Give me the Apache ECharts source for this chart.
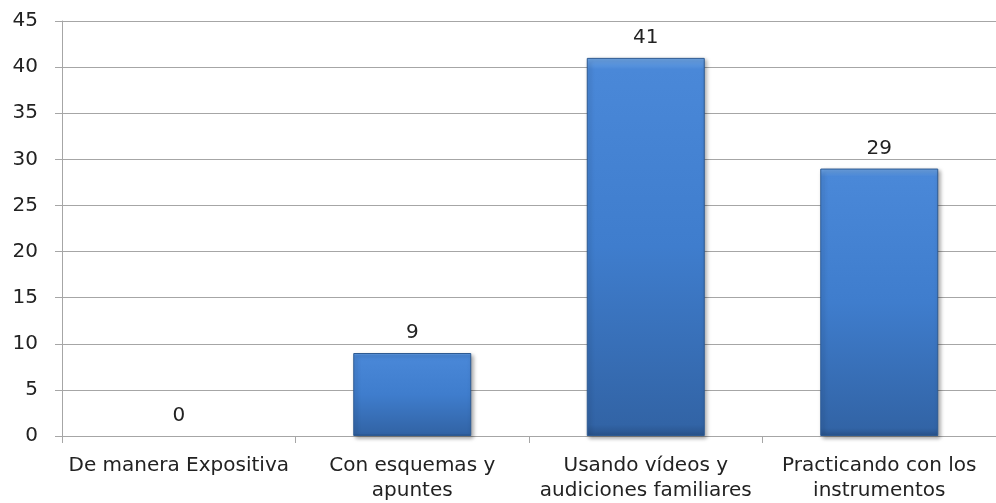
<!DOCTYPE html>
<html>
<head>
<meta charset="utf-8">
<script src="https://cdn.jsdelivr.net/npm/echarts@6/dist/echarts.min.js"></script>
<style>
    html, body { margin: 0; padding: 0; background: #fff; }
    #chart { width: 996px; height: 503px; }
</style>
</head>
<body>
<div id="chart"></div>
<script>
// categorías y valores
var categories = ['De manera Expositiva', 'Con esquemas y\napuntes', 'Usando vídeos y\naudiciones familiares', 'Practicando con los\ninstrumentos'];
var values = [0, 9, 41, 29];
var yTicks = { min: 0, max: 45, interval: 5 };

var myChart = echarts.init(document.getElementById('chart'));
var font = '"DejaVu Sans", sans-serif';

var barColor = new echarts.graphic.LinearGradient(0, 0, 0, 1, [
    { offset: 0, color: '#6fa6e6' },
    { offset: 0.03, color: '#4a88d8' },
    { offset: 0.5, color: '#3f7dcd' },
    { offset: 0.97, color: '#3264a6' },
    { offset: 1, color: '#28528a' }
]);

var option = {
    animation: false,
    grid: { left: 62, top: 21, bottom: 65, width: 940 },
    xAxis: {
        type: 'category',
        data: categories,
        axisLine: { lineStyle: { color: '#a6a6a6', width: 1 } },
        axisTick: { show: true, length: 7, lineStyle: { color: '#a6a6a6' } },
        axisLabel: {
            color: '#222', fontSize: 20, fontFamily: font,
            lineHeight: 25, margin: 17, interval: 0
        }
    },
    yAxis: {
        type: 'value',
        min: yTicks.min, max: yTicks.max, interval: yTicks.interval,
        axisLine: { show: true, lineStyle: { color: '#a6a6a6', width: 1 } },
        axisTick: { show: true, length: 7, lineStyle: { color: '#a6a6a6' } },
        axisLabel: { color: '#222', fontSize: 20, fontFamily: font, margin: 24 },
        splitLine: { lineStyle: { color: '#a6a6a6', width: 1 } }
    },
    series: [{
        type: 'bar',
        data: values.map(function (v) {
            // la barra con valor 0 no se ve en el original, sólo su etiqueta
            if (v !== 0) return v;
            return {
                value: v,
                itemStyle: { color: 'transparent', borderWidth: 0, shadowBlur: 0, shadowColor: 'transparent' }
            };
        }),
        barWidth: 118,
        label: {
            show: true, position: 'top', distance: 10,
            color: '#222', fontSize: 20, fontFamily: font
        },
        itemStyle: {
            color: barColor,
            borderColor: '#2d5a92',
            borderWidth: 1,
            shadowColor: 'rgba(0,0,0,0.35)',
            shadowBlur: 4,
            shadowOffsetX: 2,
            shadowOffsetY: 2
        }
    }]
};
myChart.setOption(option);
</script>
</body>
</html>
